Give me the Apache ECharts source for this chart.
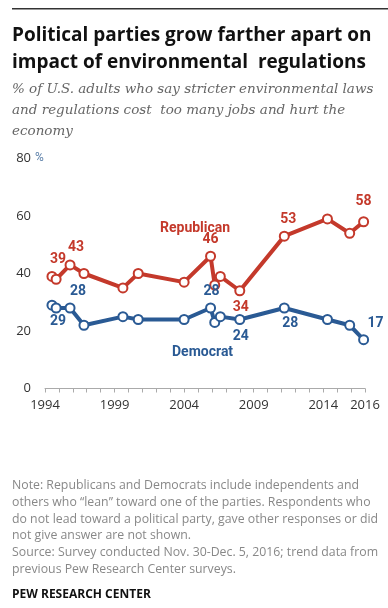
<!DOCTYPE html>
<html>
<head>
<meta charset="utf-8">
<script src="https://cdn.jsdelivr.net/npm/echarts@6/dist/echarts.min.js"></script>
<style>
html,body{margin:0;padding:0;background:#fff;}
#chart{width:388px;height:608px;}
</style>
</head>
<body>
<div id="chart"></div>
<script>
// Survey dates (fractional years)
var surveyDates = [1994.5, 1994.8, 1995.8, 1996.8, 1999.6, 2000.7, 2004.0, 2005.9, 2006.2, 2006.6, 2008.0, 2011.2, 2014.3, 2015.9, 2016.9];
var republican = [39, 38, 43, 40, 35, 40, 37, 46, 36, 39, 34, 53, 59, 54, 58];
var democrat   = [29, 28, 28, 22, 25, 24, 24, 28, 23, 25, 24, 28, 24, 22, 17];
var yTicks = [0, 20, 40, 60, 80];
var xTickLabels = {1994: '1994', 1999: '1999', 2004: '2004', 2009: '2009', 2014: '2014', 2017: '2016'};

// Which points carry a value label and where it sits
var repLabels = {0: {pos: 'top', off: [6, 0]}, 2: {pos: 'top', off: [6, -1]}, 7: {pos: 'top', off: [0, 0]},
                 10: {pos: 'bottom', off: [1, 0]}, 11: {pos: 'top', off: [4, 0]}, 14: {pos: 'top', off: [0, -4]}};
var demLabels = {0: {pos: 'bottom', off: [6, 0]}, 2: {pos: 'top', off: [8, 0]}, 7: {pos: 'top', off: [1, 0]},
                 10: {pos: 'bottom', off: [1, 0]}, 11: {pos: 'bottom', off: [6, -1]}, 14: {pos: 'top', off: [12, 0]}};

var RED = '#C4392B', BLUE = '#2A5A94';
var FONT = 'Roboto, "Liberation Sans", Arial, sans-serif';
var WFONT = '"Open Sans", Roboto, Arial, sans-serif';

function buildData(vals, labels, color) {
  return surveyDates.map(function (d, i) {
    var item = {value: [d, vals[i]]};
    if (labels[i]) {
      item.label = {show: true, position: labels[i].pos, offset: labels[i].off, distance: 4,
        color: color, fontSize: 14, fontWeight: 'bold', fontFamily: FONT, formatter: '{@[1]}'};
    }
    return item;
  });
}

var chart = echarts.init(document.getElementById('chart'), null, {renderer: 'canvas'});
var option = {
  backgroundColor: '#fff',
  animation: false,
  grid: {left: 45, right: 23, top: 158.5, bottom: 219.5},
  xAxis: {
    type: 'value', min: 1994, max: 2017, interval: 1,
    axisLine: {show: true, lineStyle: {color: '#aaa', width: 1}},
    axisTick: {show: true, length: 4, lineStyle: {color: '#aaa'}},
    splitLine: {show: false},
    axisLabel: {
      color: '#333', fontSize: 13, fontFamily: WFONT, margin: 10,
      formatter: function (v) { return xTickLabels[v] || ''; }
    }
  },
  yAxis: {
    type: 'value', min: 0, max: 80, interval: 20,
    axisLine: {show: false}, axisTick: {show: false}, splitLine: {show: false},
    axisLabel: {color: '#333', fontSize: 13, fontFamily: WFONT, margin: 14,
      formatter: function (v) { return yTicks.indexOf(v) >= 0 ? String(v) : ''; }}
  },
  series: [
    {
      name: 'Republican', type: 'line', data: buildData(republican, repLabels, RED),
      lineStyle: {color: RED, width: 4}, itemStyle: {color: '#fff', borderColor: RED, borderWidth: 2},
      symbol: 'circle', symbolSize: 9, showAllSymbol: true, z: 3
    },
    {
      name: 'Democrat', type: 'line', data: buildData(democrat, demLabels, BLUE),
      lineStyle: {color: BLUE, width: 4}, itemStyle: {color: '#fff', borderColor: BLUE, borderWidth: 2},
      symbol: 'circle', symbolSize: 9, showAllSymbol: true, z: 3
    }
  ],
  graphic: [
    {type: 'rect', shape: {x: 12, y: 8, width: 376, height: 1.5}, style: {fill: '#333'}},
    {type: 'text', left: 12, top: 22, style: {text: 'Political parties grow farther apart on\nimpact of environmental  regulations',
      font: 'bold 19px ' + WFONT, fill: '#111', lineHeight: 27}},
    {type: 'text', left: 12, top: 79, style: {text: '% of U.S. adults who say stricter environmental laws\nand regulations cost  too many jobs and hurt the\neconomy',
      font: 'italic 13.5px "DejaVu Serif", Georgia, serif', fill: '#666', lineHeight: 21}},
    {type: 'text', left: 35, top: 152, style: {text: '%', font: '12px ' + FONT, fill: '#5b7fa8'}},
    {type: 'text', left: 160, top: 221, style: {text: 'Republican', font: 'bold 14px ' + FONT, fill: RED}},
    {type: 'text', left: 172, top: 345, style: {text: 'Democrat', font: 'bold 14px ' + FONT, fill: BLUE}},
    {type: 'text', left: 12, top: 477, style: {text: 'Note: Republicans and Democrats include independents and\nothers who \u201clean\u201d toward one of the parties. Respondents who\ndo not lead toward a political party, gave other responses or did\nnot give answer are not shown.\nSource: Survey conducted Nov. 30-Dec. 5, 2016; trend data from\nprevious Pew Research Center surveys.',
      font: '12.3px ' + WFONT, fill: '#888', lineHeight: 16.8}},
    {type: 'text', left: 12, top: 589, style: {text: 'PEW RESEARCH CENTER', font: 'bold 12px ' + WFONT, fill: '#111'}}
  ]
};
chart.setOption(option);
</script>
</body>
</html>
